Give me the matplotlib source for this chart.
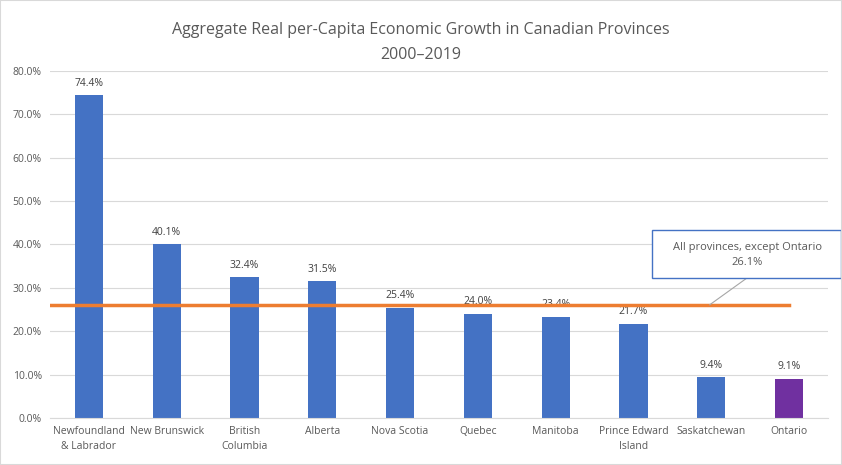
import matplotlib.pyplot as plt
import matplotlib.patches as patches

provinces = ["Newfoundland\n& Labrador", "New Brunswick", "British\nColumbia", "Alberta",
             "Nova Scotia", "Quebec", "Manitoba", "Prince Edward\nIsland", "Saskatchewan", "Ontario"]
growth = [74.4, 40.1, 32.4, 31.5, 25.4, 24.0, 23.4, 21.7, 9.4, 9.1]
others_avg = 26.1
bar_colors = ["#4472C4"] * 9 + ["#7030A0"]

grey = "#595959"
plt.rcParams['font.family'] = ['Open Sans', 'DejaVu Sans']

fig = plt.figure(figsize=(8.42, 4.65), dpi=100)
ax = fig.add_axes([50 / 842, 1 - 418 / 465, 778 / 842, 347 / 465])

x = list(range(len(provinces)))
bars = ax.bar(x, growth, width=0.36, color=bar_colors, zorder=2)
for xi, v in zip(x, growth):
    ax.text(xi, v + 1.5, "%.1f%%" % v, ha='center', va='bottom', fontsize=7.5, color="#404040")

ax.plot([-0.5, 9], [others_avg, others_avg], color="#ED7D31", lw=2.5, zorder=3)

ax.set_xlim(-0.5, 9.5)
ax.set_ylim(0, 80)
ax.set_yticks(range(0, 81, 10))
ax.set_yticklabels(["%.1f%%" % t for t in range(0, 81, 10)], fontsize=7.5, color=grey)
ax.set_xticks(x)
ax.set_xticklabels(provinces, fontsize=7.5, color=grey, linespacing=1.4)
ax.tick_params(length=0, pad=6)
ax.grid(axis='y', color="#D9D9D9", lw=0.8, zorder=0)
for s in ["top", "right", "left"]:
    ax.spines[s].set_visible(False)
ax.spines["bottom"].set_color("#D9D9D9")

# callout for the average line
box_left, box_right, box_bot, box_top = 7.24, 9.67, 32.3, 43.3
ax.add_patch(patches.Rectangle((box_left, box_bot), box_right - box_left, box_top - box_bot,
                               fc="white", ec="#4472C4", lw=1, zorder=5, clip_on=False))
ax.plot([8.46, 7.98], [box_bot, others_avg], color="#A6A6A6", lw=0.8, zorder=4)
ax.text(8.46, (box_bot + box_top) / 2 - 0.3, "All provinces, except Ontario\n%.1f%%" % others_avg,
        ha='center', va='center', fontsize=8, color=grey, linespacing=1.5, zorder=6)

fig.text(0.5, 1 - 30 / 465, "Aggregate Real per-Capita Economic Growth in Canadian Provinces",
         ha='center', va='center', fontsize=11.5, color=grey)
fig.text(0.5, 1 - 55 / 465, "2000\u20132019", ha='center', va='center', fontsize=11.5, color=grey)

fig.patches.append(patches.Rectangle((0, 0), 1, 1, transform=fig.transFigure,
                                     fill=False, ec="#D9D9D9", lw=1.5))

fig.savefig("out.png", dpi=100)
